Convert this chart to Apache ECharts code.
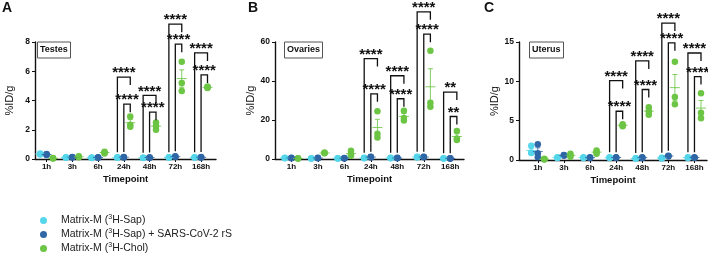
<!DOCTYPE html>
<html>
<head>
<meta charset="utf-8">
<script src="https://cdn.jsdelivr.net/npm/echarts@6/dist/echarts.min.js"></script>
<style>
html,body{margin:0;padding:0;background:#fff}
#chart{width:708px;height:260px}
</style>
</head>
<body>
<div id="chart"></div>
<script>
// timepoints on x axis
var timepoints = ['1h', '3h', '6h', '24h', '48h', '72h', '168h'];
var groupNames = ['Matrix-M (3H-Sap)', 'Matrix-M (3H-Sap) + SARS-CoV-2 rS', 'Matrix-M (3H-Chol)'];

// %ID/g, n=3 per timepoint
var testesSap   = [[0.38,0.30,0.35],[0.10,0.12,0.08],[0.08,0.10,0.07],[0.10,0.12,0.09],[0.08,0.09,0.07],[0.10,0.12,0.11],[0.10,0.12,0.11]];
var testesSapRS = [[0.35,0.28,0.30],[0.13,0.10,0.12],[0.10,0.12,0.09],[0.12,0.14,0.11],[0.10,0.11,0.09],[0.15,0.18,0.14],[0.10,0.13,0.11]];
var testesChol  = [[0.05,0.03,0.06],[0.12,0.18,0.15],[0.38,0.50,0.45],[2.90,2.35,2.20],[2.50,2.25,2.00],[6.65,5.20,4.65],[4.95,4.85,4.90]];

var ovariesSap   = [[0.5,0.4,0.6],[0.3,0.4,0.2],[0.3,0.4,0.2],[0.5,0.6,0.4],[0.5,0.6,0.4],[1.0,0.8,1.2],[0.3,0.4,0.2]];
var ovariesSapRS = [[0.4,0.5,0.6],[0.5,0.6,0.4],[0.4,0.5,0.3],[1.0,0.8,1.1],[0.5,0.6,0.4],[1.0,0.9,1.1],[0.3,0.4,0.2]];
var ovariesChol  = [[0.3,0.2,0.4],[2.9,3.3,3.1],[4.2,2.5,1.7],[24.5,13.0,11.0],[24.7,21.0,19.8],[55.5,28.8,26.8],[14.3,10.5,9.8]];

var uterusSap   = [[1.80,0.95,0.90],[0.30,0.35,0.25],[0.30,0.35,0.25],[0.30,0.35,0.25],[0.20,0.25,0.15],[0.30,0.20,0.25],[0.30,0.35,0.25]];
var uterusSapRS = [[2.00,0.85,0.35],[0.60,0.55,0.65],[0.30,0.35,0.25],[0.30,0.35,0.30],[0.30,0.35,0.25],[0.50,0.55,0.45],[0.30,0.35,0.30]];
var uterusChol  = [[0.10,0.05,0.15],[0.40,0.80,0.60],[0.80,1.20,1.00],[4.55,4.30,4.40],[6.70,6.20,5.75],[12.50,8.00,7.10],[8.50,6.00,5.30]];

// significance brackets at 24h, 48h, 72h, 168h (top heights, data units)
var bracketTimes = [3, 4, 5, 6];
var testesOuter = [5.6, 4.35, 9.22, 7.25];
var testesInner = [3.75, 3.2, 7.85, 5.75];
var testesStars = ['****', '****', '****', '****'];
var ovariesOuter = [51.5, 42.7, 75.5, 34.3];
var ovariesInner = [33.4, 30.9, 64, 21.8];
var ovariesStars = ['****', '****', '****', '**'];
var uterusOuter = [10.1, 12.6, 17.4, 13.6];
var uterusInner = [6.2, 8.96, 14.9, 10.6];
var uterusStars = ['****', '****', '****', '****'];

var colors = ['#55d6ea', '#2f66a6', '#6cc544'];
var offsets = [-0.25, 0, 0.25];
var FONT = '"Liberation Sans", Arial, sans-serif';

var panels = [
    {letter:'A', tissue:'Testes', sets:[testesSap, testesSapRS, testesChol], outer:testesOuter, inner:testesInner, stars:testesStars,
     yMax:8, yStep:2, left:35, top:42, width:181, height:117, xMin:0.55, xMax:7.58, nameGap:20, letterLeft:2, boxLeft:37},
    {letter:'B', tissue:'Ovaries', sets:[ovariesSap, ovariesSapRS, ovariesChol], outer:ovariesOuter, inner:ovariesInner, stars:ovariesStars,
     yMax:60, yStep:20, left:275, top:42, width:189, height:117, xMin:0.38, xMax:7.52, nameGap:19, letterLeft:248, boxLeft:284},
    {letter:'C', tissue:'Uterus', sets:[uterusSap, uterusSapRS, uterusChol], outer:uterusOuter, inner:uterusInner, stars:uterusStars,
     yMax:15, yStep:5, left:519, top:42, width:188, height:118, xMin:0.28, xMax:7.48, nameGap:17, letterLeft:484, boxLeft:529}
];

function mean(a){ var s = 0; a.forEach(function(v){ s += v; }); return s / a.length; }
function sem(a){
    var m = mean(a), s = 0;
    a.forEach(function(v){ s += (v - m) * (v - m); });
    return Math.sqrt(s / (a.length - 1)) / Math.sqrt(a.length);
}
function maxOf(a){ return Math.max.apply(null, a); }

function errorBarItem(color){
    return function(params, api){
        var x = api.value(0);
        var pm = api.coord([x, api.value(1)]);
        var plo = api.coord([x, api.value(2)]);
        var phi = api.coord([x, api.value(3)]);
        var st = {stroke: color, lineWidth: 1, opacity: 0.85};
        return {type:'group', children:[
            {type:'line', shape:{x1:pm[0]-5, y1:pm[1], x2:pm[0]+5, y2:pm[1]}, style:st},
            {type:'line', shape:{x1:pm[0], y1:plo[1], x2:pm[0], y2:phi[1]}, style:st},
            {type:'line', shape:{x1:pm[0]-2.5, y1:plo[1], x2:pm[0]+2.5, y2:plo[1]}, style:st},
            {type:'line', shape:{x1:pm[0]-2.5, y1:phi[1], x2:pm[0]+2.5, y2:phi[1]}, style:st}
        ]};
    };
}

function bracketItem(stars){
    return function(params, api){
        var i = api.value(0);
        var xc = api.coord([i + offsets[0], 0])[0];
        var xb = api.coord([i + offsets[1], 0])[0];
        var xg = api.coord([i + offsets[2], 0])[0];
        var yOut = api.coord([i, api.value(1)])[1];
        var yIn = api.coord([i, api.value(2)])[1];
        var yC = api.coord([i, api.value(3)])[1] - 5;
        var yB = api.coord([i, api.value(4)])[1] - 5;
        var ls = {stroke:'#111', lineWidth:1.3, fill:null};
        var ts = {fill:'#111', font:'bold 15px ' + FONT, align:'center', verticalAlign:'middle'};
        var s = stars[params.dataIndex];
        return {type:'group', children:[
            {type:'polyline', shape:{points:[[xc,yC],[xc,yOut],[xg,yOut],[xg,yOut+8]]}, style:ls},
            {type:'polyline', shape:{points:[[xb,yB],[xb,yIn],[xg,yIn],[xg,yIn+8]]}, style:ls},
            {type:'text', style:Object.assign({text:s, x:(xc+xg)/2, y:yOut-4}, ts)},
            {type:'text', style:Object.assign({text:s, x:(xb+xg)/2, y:yIn-4}, ts)}
        ]};
    };
}

var option = {
    animation: false,
    backgroundColor: '#fff',
    title: [],
    grid: [],
    xAxis: [],
    yAxis: [],
    series: [],
    legend: {
        data: groupNames,
        orient: 'vertical',
        left: 40,
        top: 214,
        padding: 0,
        itemWidth: 7,
        itemHeight: 7,
        itemGap: 2,
        icon: 'circle',
        formatter: function(name){
            return '{t|' + name.replace('3H', '}{s|3}{t|H') + '}';
        },
        textStyle: {
            padding: [0, 0, 0, 9],
            rich: {
                t: {fontSize: 10.5, fontFamily: FONT, color: '#222', lineHeight: 13},
                s: {fontSize: 7, fontFamily: FONT, color: '#222', verticalAlign: 'top', lineHeight: 13}
            }
        }
    }
};

panels.forEach(function(p, k){
    option.title.push({text:p.letter, left:p.letterLeft, top:1, padding:0,
        textStyle:{fontSize:14, fontWeight:'bold', fontFamily:FONT, color:'#111'}});
    option.title.push({text:p.tissue, left:p.boxLeft, top:p.top, padding:[2.5,3], borderColor:'#555', borderWidth:1,
        textStyle:{fontSize:9, fontWeight:'bold', fontFamily:FONT, color:'#111', lineHeight:11}});
    option.grid.push({left:p.left, top:p.top, width:p.width, height:p.height});
    option.xAxis.push({
        type:'value', gridIndex:k, min:p.xMin, max:p.xMax,
        name:'Timepoint', nameLocation:'middle', nameGap:15,
        nameTextStyle:{fontSize:9.5, fontWeight:'bold', fontFamily:FONT, color:'#111'},
        splitLine:{show:false},
        axisLine:{lineStyle:{color:'#111', width:1.4}},
        axisTick:{length:3, lineStyle:{color:'#111', width:1}, customValues:[1,2,3,4,5,6,7]},
        axisLabel:{margin:4, fontSize:8, fontWeight:'bold', fontFamily:FONT, color:'#111',
            customValues:[1,2,3,4,5,6,7],
            formatter:function(v){ return timepoints[Math.round(v) - 1]; }}
    });
    option.yAxis.push({
        type:'value', gridIndex:k, min:0, max:p.yMax, interval:p.yStep,
        name:'%ID/g', nameLocation:'middle', nameGap:p.nameGap,
        nameTextStyle:{fontSize:11, fontFamily:FONT, color:'#111'},
        splitLine:{show:false},
        axisLine:{show:true, lineStyle:{color:'#111', width:1.4}},
        axisTick:{show:true, length:3, lineStyle:{color:'#111', width:1}},
        axisLabel:{margin:5, fontSize:8.5, fontWeight:'bold', fontFamily:FONT, color:'#111'}
    });

    p.sets.forEach(function(set, g){
        var pts = [], bars = [];
        set.forEach(function(vals, i){
            vals.forEach(function(v){ pts.push([i + 1 + offsets[g], v]); });
            var m = mean(vals), e = sem(vals);
            bars.push([i + 1 + offsets[g], m, m - e, m + e]);
        });
        option.series.push({
            name: groupNames[g], type:'scatter', xAxisIndex:k, yAxisIndex:k,
            data: pts, symbolSize: 6.5, itemStyle:{color: colors[g], opacity: 1}, z: 2
        });
        option.series.push({
            type:'custom', xAxisIndex:k, yAxisIndex:k, data: bars,
            renderItem: errorBarItem(colors[g]), z: 3, silent: true
        });
    });

    var bdata = bracketTimes.map(function(t, j){
        return [t + 1, p.outer[j], p.inner[j], maxOf(p.sets[0][t]), maxOf(p.sets[1][t])];
    });
    option.series.push({
        type:'custom', xAxisIndex:k, yAxisIndex:k, data: bdata, clip:false,
        renderItem: bracketItem(p.stars), z: 4, silent: true
    });
});

var myChart = echarts.init(document.getElementById('chart'));
myChart.setOption(option);
</script>
</body>
</html>
